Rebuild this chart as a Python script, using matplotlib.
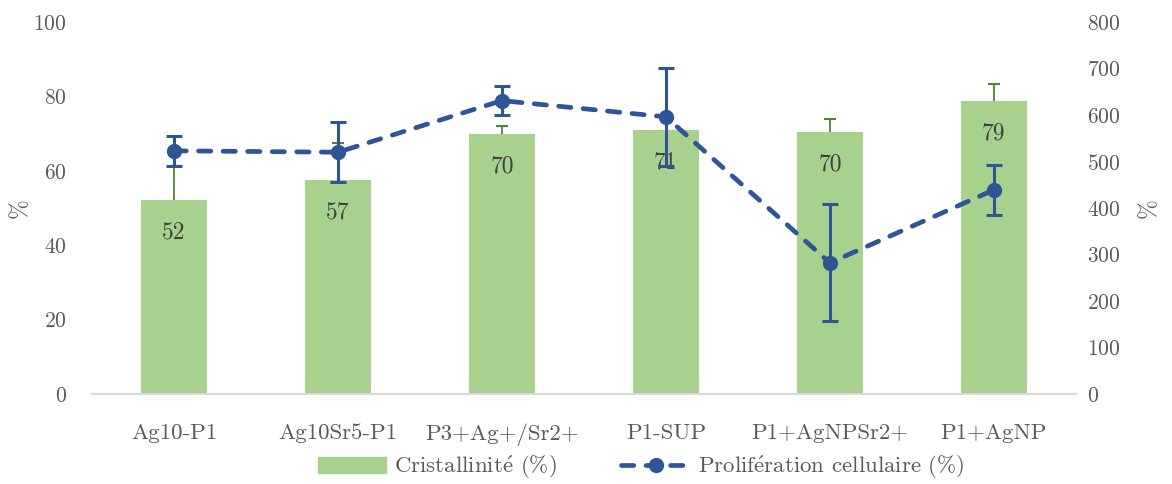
import matplotlib
matplotlib.use("Agg")
import matplotlib.pyplot as plt
from matplotlib.lines import Line2D
import numpy as np

plt.rcParams['font.family'] = ['cmr10', 'DejaVu Serif']
plt.rcParams['mathtext.fontset'] = 'cm'
plt.rcParams['axes.formatter.use_mathtext'] = True

categories = ["Ag10-P1", "Ag10Sr5-P1", "P3+Ag+/Sr2+", "P1-SUP", "P1+AgNPSr2+", "P1+AgNP"]
cristallinite = [52.2, 57.4, 70.0, 70.9, 70.3, 78.8]
cristallinite_err = [9.0, 10.0, 2.0, 0.0, 3.6, 4.6]
bar_labels = ["52", "57", "70", "71", "70", "79"]
proliferation = [523, 520, 631, 596, 282, 439]
proliferation_err = [32, 64, 32, 105, 126, 53]

# cmr10 has no e-acute glyph, so build it with mathtext
label_bar = "Cristallinit$\\mathrm{\\acute{e}}$ (%)"
label_line = "Prolif$\\mathrm{\\acute{e}}$ration cellulaire (%)"

grey = "#595959"
blue = "#2F5597"
dgreen = "#548235"
fig = plt.figure(figsize=(11.72, 4.84), dpi=100)
ax = fig.add_axes([0.0785, 0.186, 0.8395, 0.7685])
x = np.arange(len(categories))
top = np.array(cristallinite) + np.array(cristallinite_err)

ax.bar(x, cristallinite, width=0.4, color="#A9D18E", zorder=2)
# upper-only error bars (no cap at the bar top)
has_err = np.array(cristallinite_err) > 0
ax.vlines(x[has_err], np.array(cristallinite)[has_err], top[has_err],
          color=dgreen, linewidth=1.3, zorder=3)
ax.plot(x[has_err], top[has_err], linestyle="none", marker="_", markersize=9,
        markeredgewidth=1.5, color=dgreen, zorder=3)
for xi, yi, t in zip(x, cristallinite, bar_labels):
    ax.text(xi, yi - 8.7, t, ha="center", va="center", fontsize=17, color="#404040", zorder=4)

ax.set_xlim(-0.5, 5.5)
ax.set_ylim(0, 100)
ax.set_yticks(range(0, 101, 20))
ax.set_xticks(x)
ax.set_xticklabels(categories, fontsize=16.5)
ax.set_ylabel("%", fontsize=17, color=grey, labelpad=2)
for s in ["top", "right", "left"]:
    ax.spines[s].set_visible(False)
ax.spines["bottom"].set_color("#D9D9D9")
ax.spines["bottom"].set_linewidth(1.5)
ax.tick_params(axis="y", length=0, labelsize=15.5, labelcolor=grey, pad=18)
ax.tick_params(axis="x", length=0, labelcolor=grey, pad=21)

ax2 = ax.twinx()
line_style = dict(color=blue, linestyle="--", linewidth=3.4, dashes=(2.6, 2.6),
                  dash_capstyle="round", marker="o", markersize=10)
ax2.errorbar(x, proliferation, yerr=proliferation_err, ecolor=blue,
             elinewidth=2.2, capsize=6, capthick=2.2, zorder=5, **line_style)
ax2.set_ylim(0, 800)
ax2.set_yticks(range(0, 801, 100))
ax2.set_ylabel("%", fontsize=17, color=grey, labelpad=12)
for s in ["top", "right", "left", "bottom"]:
    ax2.spines[s].set_visible(False)
ax2.tick_params(axis="y", length=0, labelsize=15.5, labelcolor=grey, pad=8)

handles = [plt.Rectangle((0, 0), 1, 1, color="#A9D18E"),
           Line2D([], [], **line_style)]
fig.legend(handles, [label_bar, label_line], loc="center", bbox_to_anchor=(0.547, 0.035),
           ncol=2, frameon=False, fontsize=16.5, labelcolor=grey, handlelength=3.0,
           handletextpad=0.35, columnspacing=2.8)

fig.savefig("out.png", dpi=100)
